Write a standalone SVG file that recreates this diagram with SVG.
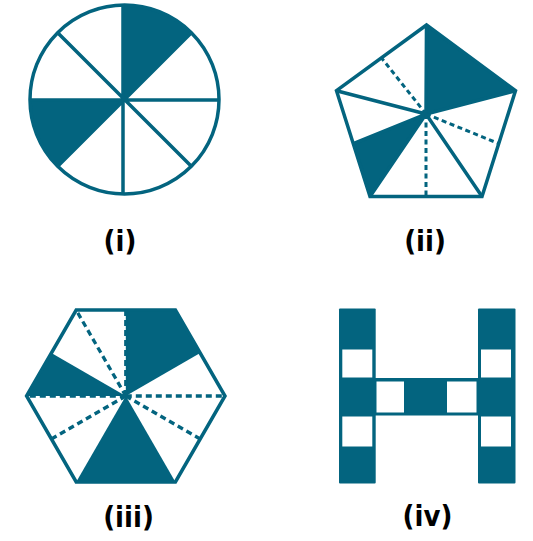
<svg xmlns="http://www.w3.org/2000/svg" width="533" height="541" viewBox="0 0 533 541">
<style>
.fill{fill:#03647f;stroke:none}
.out{fill:none;stroke:#03647f;stroke-width:3.5;stroke-linejoin:miter}
.ln{stroke:#03647f;stroke-width:3.5;fill:none}
.dash{stroke:#03647f;stroke-width:3;fill:none;stroke-dasharray:5 3.5}
.dash6{stroke:#03647f;stroke-width:3.3;fill:none;stroke-dasharray:6 4}
.lbl{font-family:"DejaVu Sans Condensed","DejaVu Sans",sans-serif;font-stretch:condensed;font-weight:bold;font-size:29px;fill:#000;text-anchor:middle}
</style>
<rect width="533" height="541" fill="#fff"/>
<g id="fig-i">
<path class="fill" d="M123,100 L123,5 A94.5,94.5 0 0 1 191.3,32.7 Z"/>
<path class="fill" d="M123,100 L30,100 A94.5,94.5 0 0 0 57.7,166.3 Z"/>
<circle class="out" cx="124.5" cy="99.5" r="94.5"/>
<path class="ln" d="M123,5 L123,194 M30,100 L219,100 M57.7,32.7 L191.3,166.3 M191.3,32.7 L57.7,166.3"/>
</g>
<g id="fig-ii">
<polygon class="fill" points="426.5,25 426,114 515.5,90.7"/>
<polygon class="fill" points="426,114 353.3,143.6 370,196.5"/>
<polygon class="out" points="426.5,25 515.5,90.7 482,196.5 370,196.5 336.5,90.7"/>
<path class="ln" d="M426,114 L426.5,25 M426,114 L336.5,90.7 M426,114 L515.5,90.7 M426,114 L482,196.5 M426,114 L370,196.5 M426,114 L353.3,143.6"/>
<path class="dash" d="M426,114 L381.5,57.9 M426,114 L498.8,143.6 M426,114 L426,196.5"/>
</g>
<g id="fig-iii">
<polygon class="fill" points="125.8,396 125.8,310.1 175.4,310.1 200.2,353"/>
<polygon class="fill" points="125.8,396 51.4,353 26.6,396"/>
<polygon class="fill" points="125.8,396 76.2,481.9 175.4,481.9"/>
<polygon class="out" points="26.6,396 76.2,310.1 175.4,310.1 225,396 175.4,481.9 76.2,481.9"/>
<path class="dash6" d="M125.8,396 L76.2,310.1 M125.8,396 L125.8,310.1 M125.8,396 L26.6,396 M125.8,396 L225,396 M125.8,396 L200.2,439 M125.8,396 L51.4,439"/>
</g>
<g id="fig-iv">
<rect class="fill" x="339" y="308.5" width="36.7" height="175" rx="1"/>
<rect class="fill" x="478" y="308.5" width="37.5" height="175" rx="1"/>
<rect class="fill" x="375" y="378" width="103.5" height="37.5"/>
<rect x="342.3" y="349.5" width="30" height="28" fill="#fff"/>
<rect x="342.3" y="416.5" width="30" height="30" fill="#fff"/>
<rect x="481" y="349.5" width="30" height="28" fill="#fff"/>
<rect x="481" y="416.5" width="30" height="30" fill="#fff"/>
<rect x="376.5" y="381.5" width="27.5" height="31" fill="#fff"/>
<rect x="447" y="381.5" width="29.5" height="31" fill="#fff"/>
</g>
<g id="labels">
<text class="lbl" x="120" y="250.5">(i)</text>
<text class="lbl" x="425" y="250.5">(ii)</text>
<text class="lbl" x="128.5" y="526.5">(iii)</text>
<text class="lbl" x="427.5" y="526">(iv)</text>
</g>
<g id="connectors"/>
</svg>
